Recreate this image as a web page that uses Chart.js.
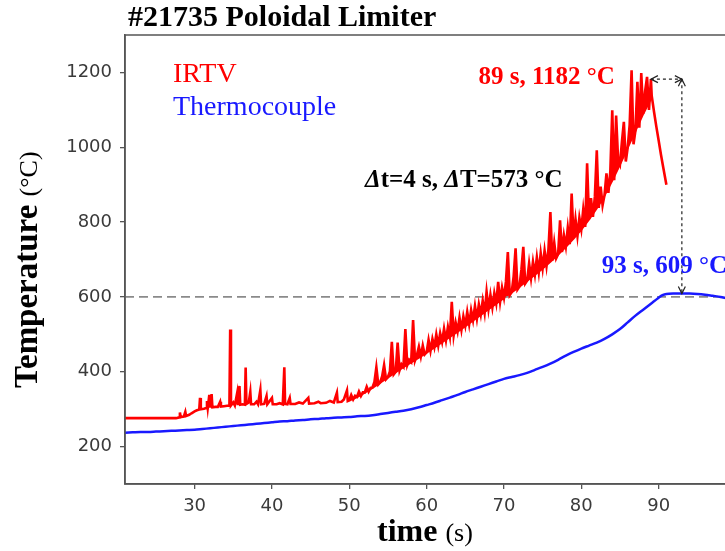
<!DOCTYPE html>
<html>
<head>
<meta charset="utf-8">
<script src="https://cdn.jsdelivr.net/npm/chart.js@4.4.1/dist/chart.umd.min.js"></script>
<style>
  html, body { margin: 0; padding: 0; background: #fff; overflow: hidden; width: 725px; height: 551px; }
  canvas { display: block; }
</style>
</head>
<body>
<canvas id="chart" width="760" height="551"></canvas>
<script>
// ---- data ----------------------------------------------------------------
// IRTV surface temperature [time (s), temperature (°C)]
const irtvPoints = [
  [21.0,276],[27.6,276],[28.0,278],[28.1,291],[28.2,279],[28.6,280],[28.8,293],[28.9,282],
  [29.3,285],[29.6,289],[30.0,294],[30.3,297],[30.6,299],[30.7,330],[30.8,300],[31.2,301],
  [31.5,303],[31.6,322],[31.7,303],[31.9,338],[32.0,304],[32.2,340],[32.3,305],[32.7,306],
  [33.0,306],[33.3,320],[33.4,307],[33.8,308],[34.2,309],[34.5,309],[34.6,513],[34.7,310],
  [35.0,318],[35.2,310],[35.5,343],[35.6,311],[35.8,362],[35.9,312],[36.2,313],[36.5,312],
  [36.6,411],[36.7,314],[37.0,318],[37.2,346],[37.3,313],[37.7,313],[38.0,320],[38.2,313],
  [38.5,351],[38.6,313],[39.0,314],[39.3,335],[39.4,313],[40.0,330],[40.1,313],[40.6,313],
  [41.0,316],[41.4,313],[41.6,412],[41.7,314],[42.0,313],[42.3,330],[42.4,314],[43.0,314],
  [43.5,318],[44.0,315],[44.7,330],[44.8,315],[45.5,316],[46.0,320],[46.3,316],[47.0,317],
  [47.5,322],[48.0,318],[48.4,344],[48.5,319],[49.0,320],[49.3,326],[49.7,350],[49.8,322],
  [50.0,324],[50.25,338],[50.5,326],[50.75,336],
  [51.0,333],[51.25,347],[51.5,335],[51.75,345],
  [52.0,345],[52.25,360],[52.5,347],[52.75,357],
  [53.0,358],[53.25,373],[53.5,412],[53.75,366],
  [54.0,372],[54.25,388],[54.5,418],[54.75,380],
  [55.0,386],[55.25,401],[55.5,480],[55.75,393],
  [56.0,400],[56.25,478],[56.5,404],[56.75,420],
  [57.0,413],[57.25,514],[57.5,418],[57.75,432],
  [58.0,426],[58.25,538],[58.5,430],[58.75,445],
  [59.0,467],[59.25,441],[59.5,470],[59.75,446],
  [60.0,452],[60.25,485],[60.5,456],[60.75,488],
  [61.0,466],[61.25,500],[61.5,470],[61.75,503],
  [62.0,480],[62.25,515],[62.5,484],[62.75,520],
  [63.0,494],[63.25,587],[63.5,498],[63.75,532],
  [64.0,508],[64.25,545],[64.5,512],[64.75,548],
  [65.0,523],[65.25,560],[65.5,527],[65.75,565],
  [66.0,538],[66.25,576],[66.5,542],[66.75,580],
  [67.0,553],[67.25,590],[67.5,557],[67.75,614],
  [68.0,568],[68.25,606],[68.5,572],[68.75,610],
  [69.0,583],[69.25,640],[69.5,587],[69.75,625],
  [70.0,598],[70.25,640],[70.5,720],[70.75,605],
  [71.0,613],[71.25,655],[71.5,730],[71.75,620],
  [72.0,628],[72.25,672],[72.5,734],[72.75,636],
  [73.0,644],[73.25,690],[73.5,650],[73.75,694],
  [74.0,660],[74.25,706],[74.5,666],[74.75,717],
  [75.0,677],[75.25,724],[75.5,683],[75.75,728],
  [76.0,827],[76.25,697],[76.5,745],[76.75,703],
  [77.0,714],[77.25,805],[77.5,720],[77.75,765],
  [78.0,735],[78.25,785],[78.5,741],[78.75,876],
  [79.0,757],[79.25,808],[79.5,763],[79.75,812],
  [80.0,781],[80.25,834],[80.5,787],[80.75,957],
  [81.0,808],[81.25,864],[81.5,814],[81.75,868],
  [82.0,992],[82.25,838],[82.5,895],[82.75,845],
  [83.0,872],[83.25,930],[83.5,878],[83.75,935],
  [84.0,1099],[84.25,912],[84.5,1085],[84.75,970],
  [85.0,955],[85.25,1015],[85.5,1068],[85.75,962],
  [86.0,1000],[86.25,1060],[86.5,1206],[86.75,1008],
  [87.0,1045],[87.25,1175],[87.5,1052],[87.75,1198],
  [88.0,1090],[88.25,1150],[88.5,1188],[88.75,1100],
  [89.0,1182],[89.1,1138],[89.4,1095],[89.7,1055],[90.0,1018],[90.3,980],[90.6,945],[91.0,900]
];

// lower edge of the IRTV noise band during the ramp [time (s), temperature (°C)]
const irtvFloor = [
  [50,323],[51,332],[52,344],[53,357],[54,371],[55,385],[56,399],[57,412],[58,425],[59,438],
  [60,451],[61,465],[62,479],[63,493],[64,507],[65,522],[66,537],[67,552],[68,567],[69,582],
  [70,597],[71,612],[72,627],[73,643],[74,659],[75,676],[76,694],[77,713],[78,734],[79,756],
  [80,780],[81,807],[82,837],[83,871],[84,911],[85,954],[86,999],[87,1044],[88,1089],[89,1130]
];

// Thermocouple temperature [time (s), temperature (°C)]
const tcPoints = [
  [21,237],[22,238],[23,239],[24,239],[25,240],[26,241],[27,242],[28,243],[29,244],[30,245],
  [31,247],[32,249],[33,251],[34,253],[35,255],[36,257],[37,259],[38,261],[39,263],[40,265],
  [41,267],[42,268],[43,270],[44,271],[45,273],[46,274],[47,276],[48,277],[49,278],[50,279],
  [51,281],[52,282],[53,284],[54,287],[55,290],[56,293],[57,296],[58,300],[59,305],[60,311],
  [61,317],[62,324],[63,331],[64,338],[65,346],[66,353],[67,360],[68,367],[69,374],[70,381],
  [71,386],[72,391],[73,397],[74,405],[75,413],[76,422],[77,432],[78,443],[79,453],[80,462],
  [81,470],[82,478],[83,488],[84,500],[85,514],[86,532],[87,550],[88,566],[89,582],[90,598],
  [90.5,605],[91,608],[92,609],[93,609],[94,609],[95,608],[96,606],[97,603],[98,600],[99,596],
  [100,593]
];

// 600 °C reference level
const refLevel = [[21,600],[100,600]];

// peak markers
const irtvPeak = [89, 1182];
const tcPeak = [93, 609];

// axes
const xRange = [21, 100];
const yRange = [100, 1300];
const xTicks = [30, 40, 50, 60, 70, 80, 90];
const yTicks = [200, 400, 600, 800, 1000, 1200];

// ---- drawing -------------------------------------------------------------
const SERIF = '"Liberation Serif", "Times New Roman", serif';
const SANS = '"DejaVu Sans", sans-serif';
const RED = 'rgb(255,0,0)';
const BLUE = 'rgb(25,25,255)';

const toXY = pts => pts.map(([x, y]) => ({ x, y }));

function arrowHead(ctx, x, y, dx, dy) {
  const len = 7, w = 3.5;
  ctx.beginPath();
  ctx.moveTo(x - dx * len - dy * w, y - dy * len + dx * w);
  ctx.lineTo(x, y);
  ctx.lineTo(x - dx * len + dy * w, y - dy * len - dx * w);
  ctx.stroke();
}

function drawRuns(ctx, x, y, runs) {
  let cx = x;
  for (const r of runs) {
    ctx.font = r.font;
    ctx.fillText(r.text, cx, y);
    cx += ctx.measureText(r.text).width;
  }
}

const overlay = {
  id: 'overlay',
  afterDraw(chart) {
    const { ctx, chartArea: a } = chart;
    const sx = chart.scales.x, sy = chart.scales.y;
    ctx.save();

    // plot frame
    ctx.strokeStyle = '#555';
    ctx.lineWidth = 1.5;
    ctx.strokeRect(a.left, a.top, a.right - a.left, a.bottom - a.top);

    // peak-to-peak dotted arrows
    const x1 = sx.getPixelForValue(irtvPeak[0]);
    const x2 = sx.getPixelForValue(tcPeak[0]);
    const y1 = sy.getPixelForValue(irtvPeak[1]);
    const y2 = sy.getPixelForValue(tcPeak[1]);
    ctx.strokeStyle = '#222';
    ctx.lineWidth = 1.2;
    ctx.setLineDash([3, 3]);
    ctx.beginPath();
    ctx.moveTo(x1, y1); ctx.lineTo(x2, y1);
    ctx.moveTo(x2, y1); ctx.lineTo(x2, y2);
    ctx.stroke();
    ctx.setLineDash([]);
    arrowHead(ctx, x1, y1, -1, 0);
    arrowHead(ctx, x2, y1, 1, 0);
    arrowHead(ctx, x2, y1, 0, -1);
    arrowHead(ctx, x2, y2, 0, 1);

    ctx.textBaseline = 'alphabetic';

    // title
    ctx.fillStyle = '#000';
    ctx.textAlign = 'left';
    ctx.font = `bold 30px ${SERIF}`;
    ctx.fillText('#21735 Poloidal Limiter', a.left + 3, 26);

    // legend
    ctx.font = `28px ${SERIF}`;
    ctx.fillStyle = RED;
    ctx.fillText('IRTV', a.left + 48, 82);
    ctx.fillStyle = BLUE;
    ctx.fillText('Thermocouple', a.left + 48, 115);

    // peak labels
    ctx.font = `bold 25px ${SERIF}`;
    ctx.fillStyle = RED;
    ctx.textAlign = 'right';
    ctx.fillText(`${irtvPeak[0]} s, ${irtvPeak[1]} °C`, x1 - 36, y1 + 5);
    ctx.fillStyle = BLUE;
    ctx.textAlign = 'left';
    ctx.fillText(`${tcPeak[0]} s, ${tcPeak[1]} °C`, x2 - 80, y2 - 21);

    // difference label
    ctx.fillStyle = '#000';
    const dt = tcPeak[0] - irtvPeak[0];
    const dT = irtvPeak[1] - tcPeak[1];
    drawRuns(ctx, a.left + 240, a.top + 152, [
      { text: 'Δ', font: `italic bold 25px ${SERIF}` },
      { text: `t=${dt} s, `, font: `bold 25px ${SERIF}` },
      { text: 'Δ', font: `italic bold 25px ${SERIF}` },
      { text: `T=${dT} °C`, font: `bold 25px ${SERIF}` }
    ]);

    // x axis title
    drawRuns(ctx, 377, 541, [
      { text: 'time ', font: `bold 32px ${SERIF}` },
      { text: '(s)', font: `26px ${SERIF}` }
    ]);

    // y axis title
    ctx.save();
    ctx.translate(37, 388);
    ctx.rotate(-Math.PI / 2);
    drawRuns(ctx, 0, 0, [
      { text: 'Temperature ', font: `bold 33px ${SERIF}` },
      { text: '(°C)', font: `26px ${SERIF}` }
    ]);
    ctx.restore();

    ctx.restore();
  }
};

new Chart(document.getElementById('chart'), {
  type: 'line',
  data: {
    datasets: [
      {
        label: 'IRTV',
        data: toXY(irtvPoints),
        borderColor: RED,
        backgroundColor: RED,
        borderWidth: 2.6,
        pointRadius: 0,
        tension: 0,
        fill: { target: 3 }
      },
      {
        label: 'Thermocouple',
        data: toXY(tcPoints),
        borderColor: BLUE,
        borderWidth: 2.5,
        pointRadius: 0,
        tension: 0.3
      },
      {
        label: '600 °C',
        data: toXY(refLevel),
        borderColor: '#8a8a8a',
        borderWidth: 1.6,
        borderDash: [9, 5],
        pointRadius: 0
      },
      {
        label: 'IRTV band floor',
        data: toXY(irtvFloor),
        borderColor: RED,
        borderWidth: 2,
        pointRadius: 0,
        tension: 0
      }
    ]
  },
  options: {
    responsive: false,
    animation: false,
    layout: { padding: { left: 0, top: 35, right: 24, bottom: 0 } },
    plugins: {
      legend: { display: false },
      title: { display: false },
      tooltip: { enabled: false }
    },
    scales: {
      x: {
        type: 'linear',
        min: xRange[0],
        max: xRange[1],
        afterBuildTicks: s => { s.ticks = xTicks.map(v => ({ value: v })); },
        afterFit: s => { s.height = 67; },
        grid: { drawOnChartArea: false, drawTicks: true, tickLength: 5, color: '#555', lineWidth: 1.3 },
        border: { display: true, color: '#555', width: 1.5 },
        ticks: { color: '#3a3a3a', padding: 7, maxRotation: 0, font: { family: SANS, size: 18 },
                 callback: v => String(v) }
      },
      y: {
        type: 'linear',
        min: yRange[0],
        max: yRange[1],
        afterBuildTicks: s => { s.ticks = yTicks.map(v => ({ value: v })); },
        afterFit: s => { s.width = 125; },
        grid: { drawOnChartArea: false, drawTicks: true, tickLength: 5, color: '#555', lineWidth: 1.3 },
        border: { display: true, color: '#555', width: 1.5 },
        ticks: { color: '#3a3a3a', padding: 8, font: { family: SANS, size: 18 },
                 callback: v => String(v) }
      }
    }
  },
  plugins: [overlay]
});
</script>
</body>
</html>
